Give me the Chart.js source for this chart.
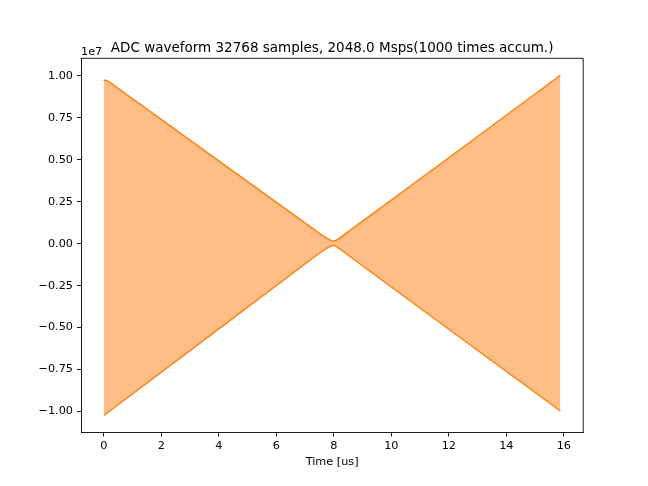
<!DOCTYPE html>
<html><head><meta charset="utf-8">
<script src="https://cdn.jsdelivr.net/npm/chart.js@4.4.0/dist/chart.umd.min.js"></script>
<style>html,body{margin:0;padding:0;background:#fff;}#wrap{width:648px;height:486px;}</style>
</head><body><div id="wrap"><canvas id="c" width="648" height="486"></canvas></div>
<script>
const titleText = 'ADC waveform 32768 samples, 2048.0 Msps(1000 times accum.)';
const xLabel = 'Time [us]';
const offsetLabel = '1e7';
// envelope of the dense waveform (time in us, amplitude in counts)
const timeUs   = [0, 0.15, 4, 7.55, 7.75, 7.88, 7.98, 8.08, 8.2, 8.35, 12, 15.88];
const upperEnv = [9.75e6, 9.68e6, 4.93e6, 0.55e6, 0.33e6, 0.20e6, 0.14e6, 0.20e6, 0.33e6, 0.52e6, 5.12e6, 1.003e7];
const lowerEnv = [-1.024e7, -1.005e7, -5.08e6, -0.50e6, -0.28e6, -0.16e6, -0.10e6, -0.16e6, -0.30e6, -0.50e6, -5.10e6, -0.997e7];
const xTicks = [0, 2, 4, 6, 8, 10, 12, 14, 16];
const xTickLabels = ['0', '2', '4', '6', '8', '10', '12', '14', '16'];
const yTicks = [-1e7, -7.5e6, -5e6, -2.5e6, 0, 2.5e6, 5e6, 7.5e6, 1e7];
const yTickLabels = ['\u22121.00', '\u22120.75', '\u22120.50', '\u22120.25', '0.00', '0.25', '0.50', '0.75', '1.00'];

const FONT = 'DejaVu Sans';
Chart.defaults.font.family = FONT;
Chart.defaults.color = '#000';

const tMin = Math.min(...timeUs), tMax = Math.max(...timeUs);
const xm = (tMax - tMin) * 0.05;
const vMin = Math.min(...lowerEnv), vMax = Math.max(...upperEnv);
const ym = (vMax - vMin) * 0.05;

const upperPts = timeUs.map((t, i) => ({x: t, y: upperEnv[i]}));
const lowerPts = timeUs.map((t, i) => ({x: t, y: lowerEnv[i]}));

const framePlugin = {
  id: 'frame',
  afterDraw(chart) {
    const {ctx, chartArea: a} = chart;
    ctx.save();
    ctx.strokeStyle = '#000';
    ctx.lineWidth = 0.9;
    ctx.beginPath();
    ctx.moveTo(a.left, a.top); ctx.lineTo(a.right, a.top); ctx.lineTo(a.right, a.bottom);
    ctx.stroke();
    ctx.fillStyle = '#000';
    ctx.textBaseline = 'alphabetic';
    ctx.font = '11.25px "' + FONT + '"';
    ctx.textAlign = 'left';
    ctx.fillText(offsetLabel, a.left, a.top - 3.5);
    ctx.font = '13.5px "' + FONT + '"';
    ctx.textAlign = 'center';
    ctx.fillText(titleText, (a.left + a.right) / 2, a.top - 6.6);
    ctx.restore();
  }
};

new Chart(document.getElementById('c'), {
  type: 'line',
  data: {
    datasets: [
      {data: upperPts, borderColor: '#ff7f0e', borderWidth: 1.4, pointRadius: 0, fill: false, tension: 0},
      {data: lowerPts, borderColor: '#ff7f0e', borderWidth: 1.4, pointRadius: 0, fill: '-1',
       backgroundColor: 'rgb(254,190,134)', tension: 0}
    ]
  },
  options: {
    responsive: false,
    animation: false,
    layout: {padding: {left: 0, right: 64.8, top: 58.3, bottom: 0}},
    plugins: {
      legend: {display: false},
      tooltip: {enabled: false},
      title: {display: false}
    },
    scales: {
      x: {
        type: 'linear', min: tMin - xm, max: tMax + xm,
        afterFit: s => { s.height = 53.5; },
        afterBuildTicks: s => { s.ticks = xTicks.map(v => ({value: v})); },
        ticks: {autoSkip: false, maxRotation: 0, padding: 2.5, font: {size: 11.25},
                callback: (v, i) => xTickLabels[i]},
        grid: {drawOnChartArea: false, drawTicks: true, tickLength: 4, color: '#000', lineWidth: 0.9},
        border: {display: true, color: '#000', width: 0.9},
        title: {display: true, text: xLabel, font: {size: 11.25}, padding: {top: 0, bottom: 17}}
      },
      y: {
        type: 'linear', min: vMin - ym, max: vMax + ym,
        afterFit: s => { s.width = 81; },
        afterBuildTicks: s => { s.ticks = yTicks.map(v => ({value: v})); },
        ticks: {autoSkip: false, padding: 4, font: {size: 11.25},
                callback: (v, i) => yTickLabels[i]},
        grid: {drawOnChartArea: false, drawTicks: true, tickLength: 4, color: '#000', lineWidth: 0.9},
        border: {display: true, color: '#000', width: 0.9}
      }
    }
  },
  plugins: [framePlugin]
});
</script>
</body></html>
